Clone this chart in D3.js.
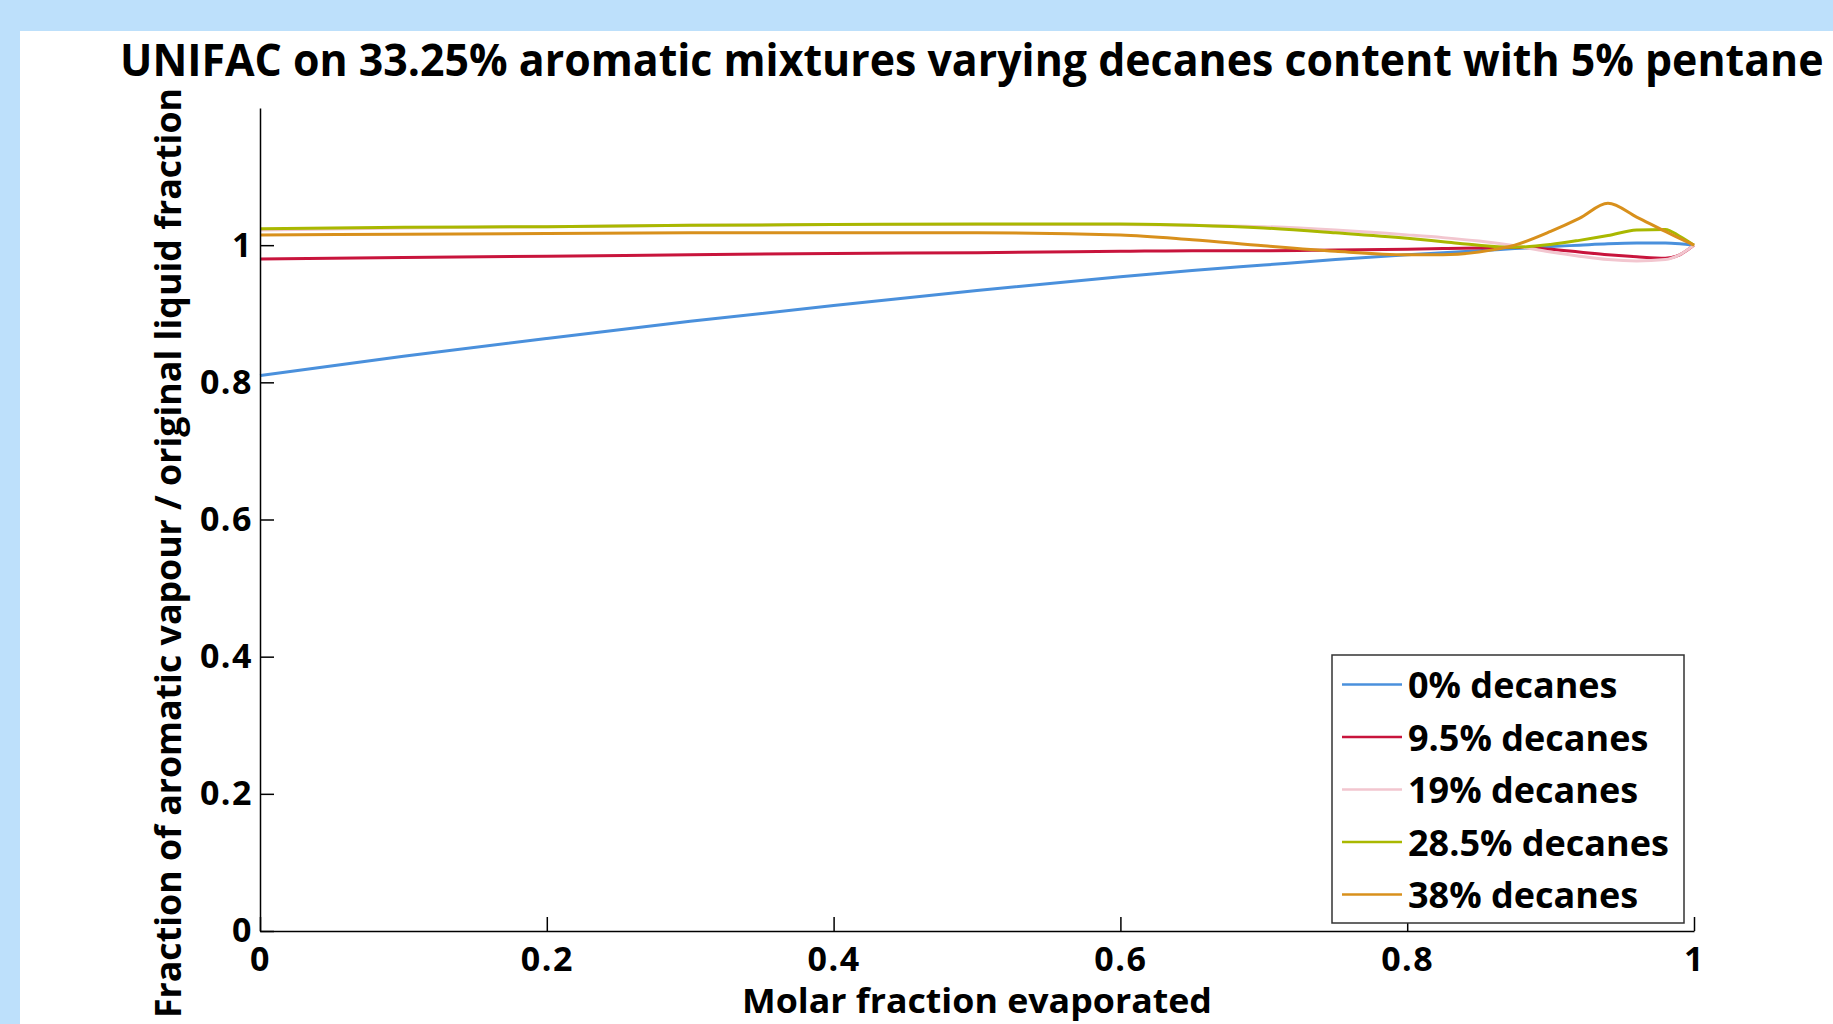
<!DOCTYPE html>
<html>
<head>
<meta charset="utf-8">
<script src="https://cdn.jsdelivr.net/npm/d3@7"></script>
<style>
  html, body { margin: 0; padding: 0; background: #bde0fb; overflow: hidden; }
  svg { display: block; }
  text { font-family: "Open Sans", "Noto Sans", sans-serif; font-weight: 700; fill: #000; }
</style>
</head>
<body>
<svg id="chart" width="1833" height="1024"></svg>
<script>
// ---- data ----
const titleText = "UNIFAC on 33.25% aromatic mixtures varying decanes content with 5% pentane";
const xLabel = "Molar fraction evaporated";
const yLabel = "Fraction of aromatic vapour / original liquid fraction";

const xs = [0, 0.1, 0.2, 0.3, 0.4, 0.5, 0.6, 0.65, 0.7, 0.75, 0.8, 0.825, 0.85, 0.875, 0.9, 0.92, 0.94, 0.96, 0.98, 0.99, 1.0];

const seriesNames = ["0% decanes", "9.5% decanes", "19% decanes", "28.5% decanes", "38% decanes"];
const seriesColors = ["#4a90dc", "#c8143c", "#f2c6cf", "#a9b800", "#d8901c"];

const dec0   = [0.810, 0.838, 0.864, 0.889, 0.912, 0.934, 0.954, 0.963, 0.971, 0.979, 0.986, 0.989, 0.992, 0.995, 0.998, 1.000, 1.002, 1.003, 1.003, 1.002, 1.000];
const dec95  = [0.980, 0.982, 0.984, 0.986, 0.988, 0.989, 0.991, 0.992, 0.992, 0.993, 0.994, 0.995, 0.996, 0.997, 0.994, 0.990, 0.986, 0.983, 0.981, 0.986, 1.000];
const dec19  = [1.022, 1.025, 1.027, 1.029, 1.030, 1.030, 1.030, 1.029, 1.027, 1.022, 1.015, 1.011, 1.006, 0.999, 0.990, 0.984, 0.979, 0.977, 0.979, 0.986, 1.000];
const dec285 = [1.024, 1.026, 1.027, 1.029, 1.030, 1.031, 1.031, 1.029, 1.025, 1.018, 1.010, 1.005, 1.000, 0.997, 1.001, 1.007, 1.014, 1.022, 1.023, 1.013, 1.000];
const dec38  = [1.015, 1.016, 1.017, 1.018, 1.018, 1.018, 1.015, 1.008, 0.999, 0.991, 0.986, 0.986, 0.990, 1.000, 1.020, 1.039, 1.061, 1.041, 1.020, 1.010, 1.000];

const seriesValues = [dec0, dec95, dec19, dec285, dec38];

const xTicks = [0, 0.2, 0.4, 0.6, 0.8, 1];
const xTickLabels = ["0", "0.2", "0.4", "0.6", "0.8", "1"];
const yTicks = [0, 0.2, 0.4, 0.6, 0.8, 1];
const yTickLabels = ["0", "0.2", "0.4", "0.6", "0.8", "1"];

// ---- drawing ----
const svg = d3.select("#chart");

// white panel
svg.append("rect").attr("x", 20).attr("y", 31).attr("width", 1813).attr("height", 993).attr("fill", "#ffffff");

const x = d3.scaleLinear().domain([0, 1]).range([260, 1694]);
const y = d3.scaleLinear().domain([0, 1.2]).range([931, 108]);

// title: fit its natural width to the target width, keep glyph height
const titleWidth = 1704, titleH = 45;
const title = svg.append("text")
  .attr("x", 0).attr("y", 0)
  .attr("font-size", titleH)
  .text(titleText);
const natural = title.node().getComputedTextLength();
const fsTitle = titleH * titleWidth / natural;
title.attr("font-size", fsTitle)
  .attr("transform", `translate(120,76) scale(1,${titleH / fsTitle})`);

// lines
const line = d3.line()
  .x((d, i) => x(xs[i]))
  .y(d => y(d))
  .curve(d3.curveMonotoneX);

const plot = svg.append("g");
seriesValues.forEach((vals, k) => {
  plot.append("path")
    .datum(vals)
    .attr("d", line)
    .attr("fill", "none")
    .attr("stroke", seriesColors[k])
    .attr("stroke-width", 3);
});

// axes
const xAxis = d3.axisBottom(x)
  .tickValues(xTicks)
  .tickFormat((d, i) => xTickLabels[i])
  .tickSizeInner(-14).tickSizeOuter(0).tickPadding(16);
const gx = svg.append("g").attr("transform", "translate(0,931)").call(xAxis);

const yAxis = d3.axisLeft(y)
  .tickValues(yTicks)
  .tickFormat((d, i) => yTickLabels[i])
  .tickSizeInner(-14).tickSizeOuter(0).tickPadding(7);
const gy = svg.append("g").attr("transform", "translate(260,0)").call(yAxis);

[gx, gy].forEach(g => {
  g.select(".domain").attr("stroke", "#000").attr("stroke-width", 1.5);
  g.selectAll(".tick line").attr("stroke", "#000").attr("stroke-width", 1.5);
  g.selectAll(".tick text")
    .attr("font-family", "'DejaVu Sans', sans-serif")
    .attr("font-weight", 700)
    .attr("font-size", 34)
    .attr("letter-spacing", 1.5)
    .attr("fill", "#000");
});

// axis labels
svg.append("text")
  .attr("x", 977).attr("y", 1013)
  .attr("text-anchor", "middle")
  .attr("font-size", 34)
  .attr("textLength", 470).attr("lengthAdjust", "spacingAndGlyphs")
  .text(xLabel);

svg.append("text")
  .attr("transform", "translate(181,553) rotate(-90)")
  .attr("text-anchor", "middle")
  .attr("font-size", 35)
  .attr("textLength", 930).attr("lengthAdjust", "spacingAndGlyphs")
  .text(yLabel);

// legend
const legend = svg.append("g");
legend.append("rect")
  .attr("x", 1332).attr("y", 655).attr("width", 352).attr("height", 268)
  .attr("fill", "#fff").attr("stroke", "#333").attr("stroke-width", 1.5);

seriesNames.forEach((name, k) => {
  const yy = 684.5 + k * 52.5;
  legend.append("line")
    .attr("x1", 1342).attr("x2", 1402).attr("y1", yy).attr("y2", yy)
    .attr("stroke", seriesColors[k]).attr("stroke-width", 2.5);
  legend.append("text")
    .attr("x", 1408).attr("y", yy + 13.5)
    .attr("font-size", 36)
    .text(name);
});
</script>
</body>
</html>
